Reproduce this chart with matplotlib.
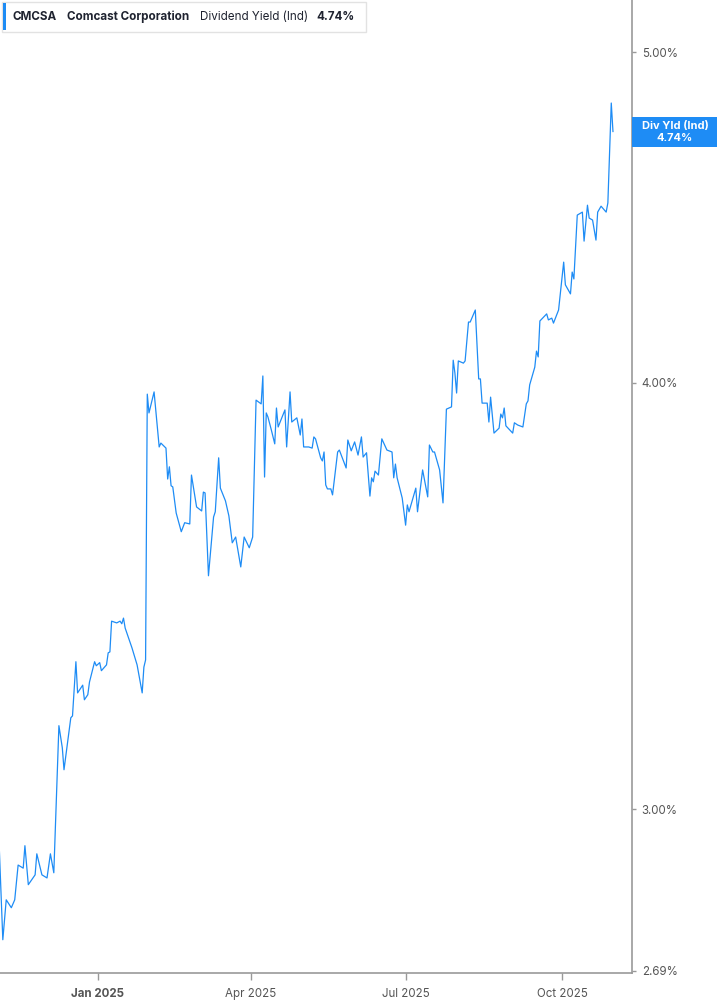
import matplotlib
matplotlib.use("Agg")
import matplotlib.pyplot as plt
from matplotlib.patches import Rectangle
from matplotlib.ticker import FixedLocator, FuncFormatter, NullLocator
import pandas as pd

plt.rcParams['font.family'] = ['Inter', 'DejaVu Sans']

# dividend yield (%), turning points only
dates = [
    "2024-11-04", "2024-11-06", "2024-11-08", "2024-11-11", "2024-11-13", "2024-11-15",
    "2024-11-18", "2024-11-19", "2024-11-21", "2024-11-25", "2024-11-26", "2024-11-29",
    "2024-12-02", "2024-12-04", "2024-12-06", "2024-12-09", "2024-12-11", "2024-12-12",
    "2024-12-16", "2024-12-17", "2024-12-19", "2024-12-20", "2024-12-23", "2024-12-24",
    "2024-12-26", "2024-12-27", "2024-12-30", "2024-12-31", "2025-01-02", "2025-01-03",
    "2025-01-06", "2025-01-07", "2025-01-08", "2025-01-09", "2025-01-12", "2025-01-14",
    "2025-01-15", "2025-01-16", "2025-01-17", "2025-01-21", "2025-01-24", "2025-01-27",
    "2025-01-28", "2025-01-29", "2025-01-30", "2025-01-31", "2025-02-03", "2025-02-06",
    "2025-02-07", "2025-02-10", "2025-02-11", "2025-02-12", "2025-02-13", "2025-02-14",
    "2025-02-16", "2025-02-19", "2025-02-21", "2025-02-24", "2025-02-25", "2025-02-28",
    "2025-03-03", "2025-03-04", "2025-03-05", "2025-03-07", "2025-03-10", "2025-03-11",
    "2025-03-13", "2025-03-14", "2025-03-17", "2025-03-19", "2025-03-21", "2025-03-23",
    "2025-03-26", "2025-03-28", "2025-03-31", "2025-04-02", "2025-04-04", "2025-04-07",
    "2025-04-08", "2025-04-09", "2025-04-10", "2025-04-11", "2025-04-13", "2025-04-15",
    "2025-04-16", "2025-04-17", "2025-04-21", "2025-04-22", "2025-04-24", "2025-04-25",
    "2025-04-28", "2025-04-30", "2025-05-01", "2025-05-02", "2025-05-05", "2025-05-07",
    "2025-05-08", "2025-05-09", "2025-05-12", "2025-05-13", "2025-05-14", "2025-05-15",
    "2025-05-16", "2025-05-18", "2025-05-19", "2025-05-22", "2025-05-23", "2025-05-27",
    "2025-05-28", "2025-05-30", "2025-06-01", "2025-06-03", "2025-06-05", "2025-06-06",
    "2025-06-08", "2025-06-10", "2025-06-11", "2025-06-12", "2025-06-13", "2025-06-15",
    "2025-06-17", "2025-06-20", "2025-06-23", "2025-06-24", "2025-06-25", "2025-06-26",
    "2025-06-29", "2025-07-01", "2025-07-02", "2025-07-03", "2025-07-07", "2025-07-08",
    "2025-07-11", "2025-07-14", "2025-07-15", "2025-07-17", "2025-07-18", "2025-07-21",
    "2025-07-23", "2025-07-25", "2025-07-28", "2025-07-29", "2025-07-30", "2025-07-31",
    "2025-08-01", "2025-08-04", "2025-08-05", "2025-08-07", "2025-08-08", "2025-08-11",
    "2025-08-13", "2025-08-14", "2025-08-15", "2025-08-18", "2025-08-19", "2025-08-20",
    "2025-08-22", "2025-08-25", "2025-08-26", "2025-08-27", "2025-08-28", "2025-08-29",
    "2025-09-02", "2025-09-03", "2025-09-05", "2025-09-08", "2025-09-10", "2025-09-11",
    "2025-09-12", "2025-09-15", "2025-09-16", "2025-09-17", "2025-09-18", "2025-09-22",
    "2025-09-23", "2025-09-25", "2025-09-26", "2025-09-29", "2025-10-02", "2025-10-03",
    "2025-10-06", "2025-10-07", "2025-10-08", "2025-10-10", "2025-10-13", "2025-10-14",
    "2025-10-16", "2025-10-17", "2025-10-19", "2025-10-21", "2025-10-22", "2025-10-24",
    "2025-10-27", "2025-10-28", "2025-10-30", "2025-10-31",
]
yields = [
    2.915, 2.747, 2.822, 2.807, 2.822, 2.889,
    2.883, 2.927, 2.851, 2.870, 2.911, 2.870,
    2.864, 2.911, 2.874, 3.174, 3.127, 3.081,
    3.191, 3.195, 3.314, 3.245, 3.262, 3.230,
    3.241, 3.269, 3.314, 3.305, 3.312, 3.294,
    3.307, 3.334, 3.336, 3.406, 3.402, 3.406,
    3.400, 3.413, 3.390, 3.345, 3.307, 3.245,
    3.302, 3.318, 3.970, 3.920, 3.976, 3.831,
    3.841, 3.828, 3.749, 3.780, 3.732, 3.729,
    3.664, 3.618, 3.640, 3.637, 3.759, 3.679,
    3.669, 3.716, 3.714, 3.512, 3.654, 3.667,
    3.803, 3.726, 3.694, 3.657, 3.591, 3.605,
    3.533, 3.605, 3.579, 3.605, 3.954, 3.944,
    4.019, 3.754, 3.920, 3.909, 3.875, 3.839,
    3.933, 3.883, 3.928, 3.831, 3.976, 3.896,
    3.907, 3.862, 3.904, 3.831, 3.831, 3.828,
    3.857, 3.852, 3.803, 3.795, 3.818, 3.734,
    3.724, 3.724, 3.709, 3.818, 3.823, 3.777,
    3.849, 3.821, 3.844, 3.810, 3.857, 3.805,
    3.816, 3.706, 3.752, 3.742, 3.769, 3.759,
    3.852, 3.823, 3.818, 3.752, 3.787, 3.752,
    3.701, 3.634, 3.684, 3.667, 3.726, 3.667,
    3.772, 3.704, 3.836, 3.818, 3.818, 3.772,
    3.689, 3.930, 3.936, 4.062, 4.027, 3.973,
    4.060, 4.054, 4.060, 4.168, 4.168, 4.202,
    4.011, 4.011, 3.946, 3.946, 3.896, 3.962,
    3.867, 3.880, 3.917, 3.907, 3.933, 3.886,
    3.867, 3.894, 3.888, 3.883, 3.944, 3.952,
    3.995, 4.043, 4.087, 4.071, 4.171, 4.191,
    4.174, 4.179, 4.165, 4.202, 4.340, 4.274,
    4.248, 4.311, 4.291, 4.480, 4.489, 4.402,
    4.510, 4.471, 4.465, 4.405, 4.489, 4.507,
    4.489, 4.517, 4.832, 4.74,
]

ticker = "CMCSA"
company = "Comcast Corporation"
metric = "Dividend Yield (Ind)"
tag_name = "Div Yld (Ind)"
y_ticks = [2.69, 3.00, 4.00, 5.00]
x_ticks = ["2025-01-01", "2025-04-01", "2025-07-01", "2025-10-01"]
x_tick_labels = ["Jan 2025", "Apr 2025", "Jul 2025", "Oct 2025"]

BLUE = "#1e8cf5"
GREY = "#999999"
TXT = "#555555"
W, H = 717, 1005


def fx(x):
    return x / W


def fy(y):
    return 1 - y / H


fig = plt.figure(figsize=(W / 100, H / 100), dpi=100)
ax = fig.add_axes([0, fy(973), fx(632), 1 - fy(973)])

ax.plot(pd.to_datetime(dates), yields, color=BLUE, lw=0.9)

ax.set_yscale('log')
ax.set_ylim(2.686, 5.18)
jan = pd.Timestamp("2025-01-01")
ax.set_xlim(jan - pd.Timedelta(days=57.66), jan + pd.Timedelta(days=314.2))

ax.yaxis.set_major_locator(FixedLocator(y_ticks))
ax.yaxis.set_minor_locator(NullLocator())
ax.yaxis.set_major_formatter(FuncFormatter(lambda v, _: f"{v:.2f}%"))
ax.yaxis.tick_right()
ax.set_xticks(pd.to_datetime(x_ticks))
ax.set_xticklabels(x_tick_labels)
ax.get_xticklabels()[0].set_fontweight('bold')

ax.tick_params(axis='y', which='both', length=3, width=1, color=GREY,
               labelsize=8.3, labelcolor=TXT, pad=4)
ax.tick_params(axis='x', length=5, width=1, color=GREY,
               labelsize=8.3, labelcolor=TXT, pad=6)

for s in ['top', 'left']:
    ax.spines[s].set_visible(False)
for s in ['right', 'bottom']:
    ax.spines[s].set_color(GREY)
    ax.spines[s].set_linewidth(1.2)

# last value tag on the right axis
y_last = ax.transData.transform((0, yields[-1]))[1] / fig.bbox.height
tag_h = 30 / H
fig.patches.append(Rectangle((fx(632), y_last - tag_h / 2), fx(W - 632), tag_h,
                             transform=fig.transFigure, facecolor=BLUE,
                             edgecolor='none', zorder=5))
fig.text(fx(675), y_last + 6 / H, tag_name, color='white', fontsize=8,
         fontweight='bold', ha='center', va='center', zorder=6)
fig.text(fx(675), y_last - 6 / H, f"{yields[-1]:.2f}%", color='white', fontsize=8,
         fontweight='bold', ha='center', va='center', zorder=6)

# header box
fig.patches.append(Rectangle((fx(2), fy(32)), fx(364), 30 / H,
                             transform=fig.transFigure, facecolor='white',
                             edgecolor='#e2e2e2', lw=1, zorder=5))
fig.patches.append(Rectangle((fx(3), fy(30)), fx(3), 27 / H,
                             transform=fig.transFigure, facecolor=BLUE,
                             edgecolor='none', zorder=6))
hy = fy(17)
hs = 8.4
fig.text(fx(13), hy, ticker, fontsize=hs, fontweight='bold', color='#1f2330',
         va='center', zorder=6)
fig.text(fx(67), hy, company, fontsize=hs, fontweight='bold', color='#1f2330',
         va='center', zorder=6)
fig.text(fx(200), hy, metric, fontsize=hs, color='#1f2330', va='center', zorder=6)
fig.text(fx(316), hy, f"{yields[-1]:.2f}%", fontsize=hs, fontweight='bold',
         color='#1f2330', va='center', zorder=6)

fig.savefig("out.png", dpi=100)
